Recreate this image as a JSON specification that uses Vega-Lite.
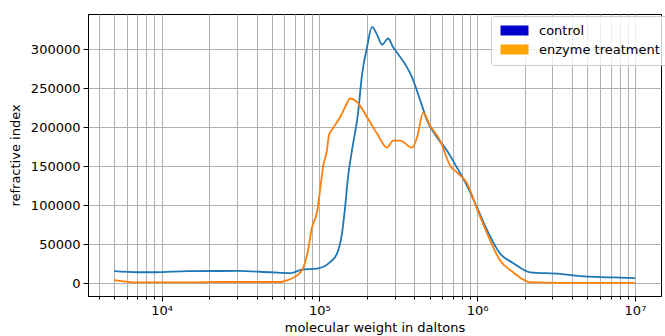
{
  "$schema": "https://vega.github.io/schema/vega-lite/v6.json",
  "width": 573,
  "height": 282,
  "autosize": {"type": "none"},
  "padding": {"left": 88, "top": 14, "right": 4, "bottom": 40},
  "background": "white",
  "config": {
    "font": "DejaVu Sans",
    "view": {"stroke": "black", "strokeWidth": 1},
    "axis": {
      "labelFont": "DejaVu Sans",
      "titleFont": "DejaVu Sans",
      "labelFontSize": 13,
      "titleFontSize": 13,
      "titleFontWeight": "normal",
      "labelColor": "black",
      "titleColor": "black",
      "tickColor": "black",
      "domainColor": "black",
      "gridColor": "#b0b0b0",
      "gridWidth": 1,
      "gridOpacity": 1
    }
  },
  "data": {
    "values": [
      {"series": "control", "mw": 5000, "ri": 15400},
      {"series": "control", "mw": 7080, "ri": 14000},
      {"series": "control", "mw": 9070, "ri": 14000},
      {"series": "control", "mw": 14700, "ri": 15400},
      {"series": "control", "mw": 30500, "ri": 15700},
      {"series": "control", "mw": 49400, "ri": 14000},
      {"series": "control", "mw": 66100, "ri": 13000},
      {"series": "control", "mw": 76500, "ri": 17000},
      {"series": "control", "mw": 98100, "ri": 19000},
      {"series": "control", "mw": 116900, "ri": 27000},
      {"series": "control", "mw": 129400, "ri": 38000},
      {"series": "control", "mw": 139200, "ri": 64000},
      {"series": "control", "mw": 145500, "ri": 97000},
      {"series": "control", "mw": 152000, "ri": 136000},
      {"series": "control", "mw": 161100, "ri": 171000},
      {"series": "control", "mw": 175800, "ri": 218000},
      {"series": "control", "mw": 186500, "ri": 268000},
      {"series": "control", "mw": 200600, "ri": 303000},
      {"series": "control", "mw": 215700, "ri": 329000},
      {"series": "control", "mw": 232000, "ri": 319000},
      {"series": "control", "mw": 249700, "ri": 306000},
      {"series": "control", "mw": 272600, "ri": 314000},
      {"series": "control", "mw": 293100, "ri": 303000},
      {"series": "control", "mw": 315400, "ri": 294000},
      {"series": "control", "mw": 359600, "ri": 277000},
      {"series": "control", "mw": 386900, "ri": 264000},
      {"series": "control", "mw": 435000, "ri": 235000},
      {"series": "control", "mw": 481500, "ri": 209000},
      {"series": "control", "mw": 557300, "ri": 187000},
      {"series": "control", "mw": 645000, "ri": 170000},
      {"series": "control", "mw": 746200, "ri": 148000},
      {"series": "control", "mw": 863500, "ri": 125000},
      {"series": "control", "mw": 999200, "ri": 97000},
      {"series": "control", "mw": 1156000, "ri": 68000},
      {"series": "control", "mw": 1397000, "ri": 38000},
      {"series": "control", "mw": 1689000, "ri": 26000},
      {"series": "control", "mw": 2165000, "ri": 14000},
      {"series": "control", "mw": 3358000, "ri": 12000},
      {"series": "control", "mw": 4490000, "ri": 9000},
      {"series": "control", "mw": 6963000, "ri": 7500},
      {"series": "control", "mw": 10000000, "ri": 6400},
      {"series": "enzyme treatment", "mw": 5000, "ri": 4000},
      {"series": "enzyme treatment", "mw": 7080, "ri": 1000},
      {"series": "enzyme treatment", "mw": 14700, "ri": 1000},
      {"series": "enzyme treatment", "mw": 23800, "ri": 1500},
      {"series": "enzyme treatment", "mw": 41800, "ri": 1500},
      {"series": "enzyme treatment", "mw": 57100, "ri": 1500},
      {"series": "enzyme treatment", "mw": 63200, "ri": 4000},
      {"series": "enzyme treatment", "mw": 72200, "ri": 10000},
      {"series": "enzyme treatment", "mw": 78800, "ri": 19000},
      {"series": "enzyme treatment", "mw": 84700, "ri": 42000},
      {"series": "enzyme treatment", "mw": 89900, "ri": 72000},
      {"series": "enzyme treatment", "mw": 96600, "ri": 91000},
      {"series": "enzyme treatment", "mw": 101000, "ri": 119000},
      {"series": "enzyme treatment", "mw": 105500, "ri": 149000},
      {"series": "enzyme treatment", "mw": 111800, "ri": 171000},
      {"series": "enzyme treatment", "mw": 115000, "ri": 190000},
      {"series": "enzyme treatment", "mw": 122100, "ri": 199000},
      {"series": "enzyme treatment", "mw": 135300, "ri": 213000},
      {"series": "enzyme treatment", "mw": 149700, "ri": 231000},
      {"series": "enzyme treatment", "mw": 156500, "ri": 237000},
      {"series": "enzyme treatment", "mw": 175800, "ri": 231000},
      {"series": "enzyme treatment", "mw": 203500, "ri": 211000},
      {"series": "enzyme treatment", "mw": 232000, "ri": 192000},
      {"series": "enzyme treatment", "mw": 268700, "ri": 174000},
      {"series": "enzyme treatment", "mw": 293100, "ri": 183000},
      {"series": "enzyme treatment", "mw": 324800, "ri": 183000},
      {"series": "enzyme treatment", "mw": 386900, "ri": 174000},
      {"series": "enzyme treatment", "mw": 416200, "ri": 187000},
      {"series": "enzyme treatment", "mw": 454600, "ri": 219000},
      {"series": "enzyme treatment", "mw": 503200, "ri": 202000},
      {"series": "enzyme treatment", "mw": 582600, "ri": 183000},
      {"series": "enzyme treatment", "mw": 673900, "ri": 151000},
      {"series": "enzyme treatment", "mw": 746200, "ri": 142000},
      {"series": "enzyme treatment", "mw": 863500, "ri": 128000},
      {"series": "enzyme treatment", "mw": 999200, "ri": 95000},
      {"series": "enzyme treatment", "mw": 1156000, "ri": 64000},
      {"series": "enzyme treatment", "mw": 1397000, "ri": 29000},
      {"series": "enzyme treatment", "mw": 1689000, "ri": 14000},
      {"series": "enzyme treatment", "mw": 2165000, "ri": 1300},
      {"series": "enzyme treatment", "mw": 3358000, "ri": 500},
      {"series": "enzyme treatment", "mw": 10000000, "ri": 500}
    ]
  },
  "mark": {"type": "line", "strokeWidth": 1.8, "interpolate": "monotone"},
  "encoding": {
    "x": {
      "field": "mw",
      "type": "quantitative",
      "scale": {"type": "log", "domain": [3420, 14620000], "nice": false, "zero": false},
      "axis": {
        "title": "molecular weight in daltons",
        "values": [4000, 5000, 6000, 7000, 8000, 9000, 10000, 20000, 30000, 40000, 50000, 60000, 70000, 80000, 90000, 100000, 200000, 300000, 400000, 500000, 600000, 700000, 800000, 900000, 1000000, 2000000, 3000000, 4000000, 5000000, 6000000, 7000000, 8000000, 9000000, 10000000],
        "labelExpr": "datum.value == 10000 ? '10⁴' : datum.value == 100000 ? '10⁵' : datum.value == 1000000 ? '10⁶' : datum.value == 10000000 ? '10⁷' : ''",
        "labelOverlap": false,
        "labelFlush": false,
        "tickSize": {"condition": {"test": "datum.value == 10000 || datum.value == 100000 || datum.value == 1000000 || datum.value == 10000000", "value": 5}, "value": 3},
        "labelPadding": 3,
        "titlePadding": 4,
        "grid": true
      }
    },
    "y": {
      "field": "ri",
      "type": "quantitative",
      "scale": {"domain": [-16450, 345450], "nice": false, "zero": false},
      "axis": {
        "title": "refractive index",
        "values": [0, 50000, 100000, 150000, 200000, 250000, 300000],
        "format": "d",
        "tickSize": 5,
        "labelPadding": 3,
        "titlePadding": 8,
        "grid": true
      }
    },
    "color": {
      "field": "series",
      "type": "nominal",
      "scale": {"domain": ["control", "enzyme treatment"], "range": ["#1f77b4", "#ff7f0e"]},
      "legend": {
        "title": null,
        "orient": "none",
        "legendX": 403,
        "legendY": 2,
        "padding": 8,
        "fillColor": "rgba(255,255,255,0.8)",
        "strokeColor": "#cccccc",
        "cornerRadius": 3,
        "labelFont": "DejaVu Sans",
        "labelFontSize": 13,
        "labelColor": "black",
        "symbolType": "M-1,-1H4.6V1H-1Z",
        "symbolSize": 100,
        "labelOffset": 27,
        "rowPadding": 5,
        "encode": {
          "symbols": {
            "update": {
              "fill": {"signal": "datum.value === 'control' ? '#0000cd' : '#ffa500'"},
              "stroke": {"value": "transparent"},
              "strokeWidth": {"value": 0},
              "opacity": {"value": 1}
            }
          }
        }
      }
    }
  }
}
